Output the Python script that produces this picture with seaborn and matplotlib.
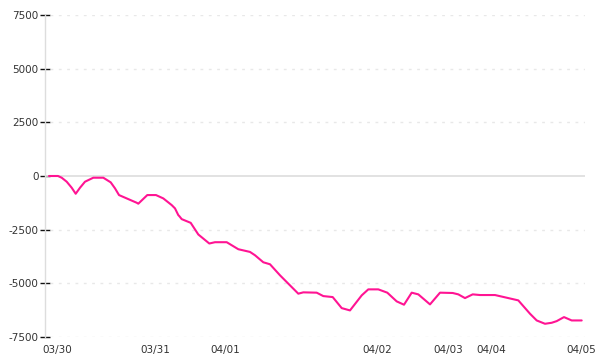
import matplotlib
matplotlib.use("Agg")
import matplotlib.pyplot as plt
import seaborn as sns
import pandas as pd

# time position (relative units along the axis) and cumulative value
t_pos = [0, 9, 12.7, 17.7, 22.7, 26.7, 31, 36, 44.3, 54.3, 61.7, 66, 70, 77.7, 87.7, 89.3,
         98.3, 107, 114.3, 122.7, 126, 129.3, 130.3, 132.7, 141.7, 149.3, 160.3, 166, 177.7,
         189.3, 201, 206, 214.3, 221, 231, 241, 249.3, 254.3, 267.7, 274.3, 283.7, 292.7,
         301, 312.7, 319.3, 329.3, 338.3, 347.7, 355, 362.7, 369.3, 381, 391, 403.7, 409.3,
         416, 423.7, 431, 446, 459.3, 469.3, 481, 487.7, 496, 502.7, 507.7, 515, 522.7, 532.7]
values = [0, 0, -80, -266, -547, -827, -547, -266, -80, -80, -295, -575, -888, -1044, -1246, -1290,
          -888, -888, -1044, -1355, -1509, -1822, -1869, -2009, -2182, -2724, -3145, -3084, -3084,
          -3411, -3537, -3692, -4019, -4112, -4626, -5094, -5482, -5420, -5435, -5594, -5640, -6154,
          -6262, -5561, -5281, -5281, -5435, -5841, -5996, -5435, -5514, -5981, -5435, -5450, -5514,
          -5687, -5514, -5545, -5545, -5687, -5794, -6416, -6729, -6884, -6837, -6760, -6573, -6729, -6729]

tick_pos = [8, 106, 176, 328, 399, 442, 532]
tick_labels = ["03/30", "03/31", "04/01", "04/02", "04/03", "04/04", "04/05"]
y_ticks = [-7500, -5000, -2500, 0, 2500, 5000, 7500]

df = pd.DataFrame({"t": t_pos, "v": values})

sns.set_style("white")
plt.rcParams["font.family"] = ["DejaVu Sans"]

fig = plt.figure(figsize=(6, 3.6), dpi=100)
ax = fig.add_axes([45 / 600, 1 - 337 / 360, 540 / 600, 322 / 360])

for yv in y_ticks:
    if yv == 0:
        ax.axhline(0, color="#dddddd", lw=1.2, zorder=1)
    else:
        ax.axhline(yv, xmin=0.01, color="#e8e8e8", lw=1, ls=(0, (2, 4)), zorder=1)

sns.lineplot(data=df, x="t", y="v", color="#ff1493", lw=1.5, ax=ax, zorder=3)

ax.set_xlim(-4, 536)
ax.set_ylim(-7500, 7500)
ax.set_yticks(y_ticks)
ax.set_yticklabels([str(v) for v in y_ticks])
ax.set_xticks(tick_pos)
ax.set_xticklabels(tick_labels)
ax.set_xlabel("")
ax.set_ylabel("")

for s in ["top", "right", "bottom"]:
    ax.spines[s].set_visible(False)
ax.spines["left"].set_color("#dddddd")
ax.spines["left"].set_linewidth(1)

ax.tick_params(axis="y", direction="inout", length=7, width=1, color="#111111",
               labelsize=7.5, labelcolor="#333333", pad=1, left=True)
ax.tick_params(axis="x", length=0, labelsize=7.5, labelcolor="#333333", pad=6)

fig.savefig("out.png", dpi=100)
